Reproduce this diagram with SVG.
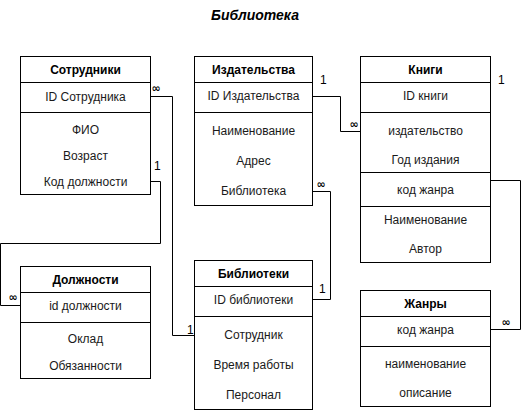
<svg xmlns="http://www.w3.org/2000/svg" width="522" height="411" viewBox="0 0 522 411">
<style>
  .box { fill: #ffffff; stroke: #000000; stroke-width: 1; }
  .sep { stroke: #000000; stroke-width: 1; fill: none; }
  .hdr { font-family: "Liberation Sans", Arial, sans-serif; font-size: 12px; font-weight: bold; fill: #000000; text-anchor: middle; dominant-baseline: central; }
  .row { font-family: "Liberation Sans", Arial, sans-serif; font-size: 12px; fill: #1a1a1a; text-anchor: middle; dominant-baseline: central; }
  .conn { stroke: #000000; stroke-width: 1; fill: none; }
  .lbl { font-family: "Liberation Sans", Arial, sans-serif; font-size: 12px; fill: #000000; dominant-baseline: central; }
  .inf { font-family: "DejaVu Sans", "Liberation Sans", sans-serif; font-size: 11px; font-weight: bold; fill: #000000; text-anchor: middle; dominant-baseline: central; }
  .title { font-family: "Liberation Sans", Arial, sans-serif; font-size: 14px; font-weight: bold; font-style: italic; fill: #000000; text-anchor: middle; dominant-baseline: central; }
</style>
<rect width="522" height="411" fill="#ffffff"/>
<text class="title" x="255" y="15">Библиотека</text>

<g id="connectors">
  <path class="conn" d="M150.5,96.5 H172.5 V335.5 H194.5"/>
  <path class="conn" d="M150.5,181.5 H160.5 V243.5 H0.5 V305.5 H20.5"/>
  <path class="conn" d="M312.5,96.5 H340.5 V131.5 H360.5"/>
  <path class="conn" d="M312.5,191.5 H330.5 V299.5 H312.5"/>
  <path class="conn" d="M490.5,180.5 H520.5 V329.5 H490.5"/>
  <text class="inf" x="156" y="88">∞</text>
  <text class="lbl" x="187" y="330">1</text>
  <text class="lbl" x="154" y="166">1</text>
  <text class="inf" x="13" y="297">∞</text>
  <text class="lbl" x="320" y="80">1</text>
  <text class="inf" x="354" y="124">∞</text>
  <text class="inf" x="321" y="184">∞</text>
  <text class="lbl" x="319" y="289">1</text>
  <text class="lbl" x="498" y="80">1</text>
  <text class="inf" x="506" y="322">∞</text>
</g>

<g id="sotrudniki">
  <rect class="box" x="20.5" y="56.5" width="130" height="138"/>
  <path class="sep" d="M20.5,82.5 H150.5 M20.5,112.5 H150.5"/>
  <text class="hdr" x="85.5" y="70">Сотрудники</text>
  <text class="row" x="85.5" y="97">ID Сотрудника</text>
  <text class="row" x="85.5" y="130">ФИО</text>
  <text class="row" x="85.5" y="156">Возраст</text>
  <text class="row" x="85.5" y="182">Код должности</text>
</g>

<g id="izdatelstva">
  <rect class="box" x="194.5" y="56.5" width="118" height="149"/>
  <path class="sep" d="M194.5,82.5 H312.5 M194.5,112.5 H312.5"/>
  <text class="hdr" x="253.5" y="70">Издательства</text>
  <text class="row" x="253.5" y="96">ID Издательства</text>
  <text class="row" x="253.5" y="131">Наименование</text>
  <text class="row" x="253.5" y="161">Адрес</text>
  <text class="row" x="253.5" y="191">Библиотека</text>
</g>

<g id="knigi">
  <rect class="box" x="360.5" y="56.5" width="130" height="206"/>
  <path class="sep" d="M360.5,82.5 H490.5 M360.5,112.5 H490.5 M360.5,172.5 H490.5 M360.5,206.5 H490.5"/>
  <text class="hdr" x="425.5" y="70">Книги</text>
  <text class="row" x="425.5" y="96">ID книги</text>
  <text class="row" x="425.5" y="131">издательство</text>
  <text class="row" x="425.5" y="160">Год издания</text>
  <text class="row" x="425.5" y="190">код жанра</text>
  <text class="row" x="425.5" y="220">Наименование</text>
  <text class="row" x="425.5" y="249">Автор</text>
</g>

<g id="dolzhnosti">
  <rect class="box" x="20.5" y="266.5" width="130" height="112"/>
  <path class="sep" d="M20.5,292.5 H150.5 M20.5,322.5 H150.5"/>
  <text class="hdr" x="85.5" y="280">Должности</text>
  <text class="row" x="85.5" y="306">id должности</text>
  <text class="row" x="85.5" y="339">Оклад</text>
  <text class="row" x="85.5" y="366">Обязанности</text>
</g>

<g id="biblioteki">
  <rect class="box" x="194.5" y="260.5" width="118" height="149"/>
  <path class="sep" d="M194.5,286.5 H312.5 M194.5,316.5 H312.5"/>
  <text class="hdr" x="253.5" y="273.5">Библиотеки</text>
  <text class="row" x="253.5" y="299.5">ID библиотеки</text>
  <text class="row" x="253.5" y="335">Сотрудник</text>
  <text class="row" x="253.5" y="365">Время работы</text>
  <text class="row" x="253.5" y="395">Персонал</text>
</g>

<g id="zhanry">
  <rect class="box" x="360.5" y="290.5" width="130" height="116"/>
  <path class="sep" d="M360.5,316.5 H490.5 M360.5,346.5 H490.5"/>
  <text class="hdr" x="425.5" y="303.5">Жанры</text>
  <text class="row" x="425.5" y="329.5">код жанра</text>
  <text class="row" x="425.5" y="364">наименование</text>
  <text class="row" x="425.5" y="393">описание</text>
</g>
</svg>
